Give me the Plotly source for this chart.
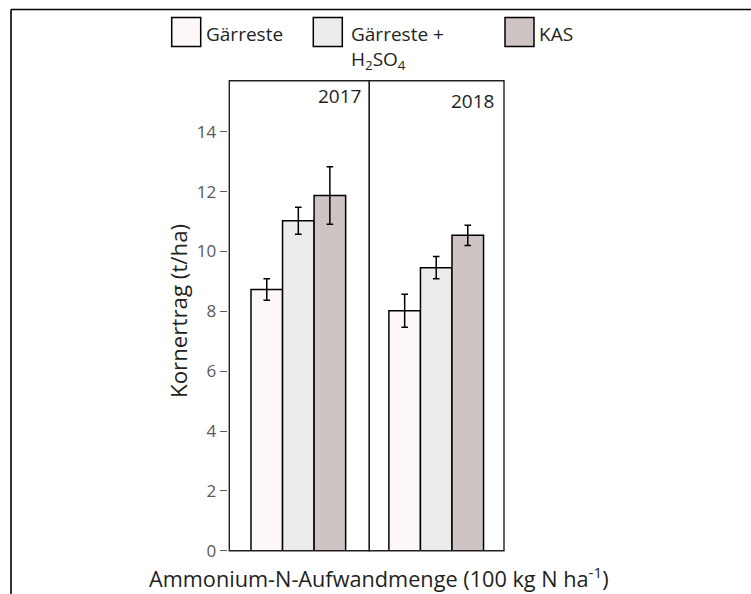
import plotly.graph_objects as go

W = 751
H_REF = 594      # height of the reference picture (pixel positions below are read from it)
H = 605          # page height that is rendered and then fitted into the 594 px picture

years = ["2017", "2018"]
treatments = ["Gärreste", "Gärreste +<br>H<sub>2</sub>SO<sub>4</sub>", "KAS"]
values = {
    "2017": [8.73, 11.03, 11.87],
    "2018": [8.02, 9.46, 10.54],
}
errors = {
    "2017": [0.36, 0.45, 0.96],
    "2018": [0.55, 0.37, 0.34],
}
y_ticks = [0, 2, 4, 6, 8, 10, 12, 14]
y_title = "Kornertrag (t/ha)"
x_title = "Ammonium-N-Aufwandmenge (100 kg N ha<sup>-1</sup>)"

fills = ["#fdf8f7", "#ececec", "#cdc4c3"]
FONT = "Open Sans"
DARK = "#231f20"
GRAY = "#58595b"


def px(x):
    return x / W


def py(y):
    return (H_REF - y) / H_REF


fig = go.Figure()
axes = [("x", "y"), ("x2", "y")]
for yi, yr in enumerate(years):
    xa, ya = axes[yi]
    for ti, t in enumerate(treatments):
        fig.add_trace(go.Bar(
            x=[yr], y=[values[yr][ti]], name=t, xaxis=xa, yaxis=ya,
            marker=dict(color=fills[ti], line=dict(color="black", width=1.5)),
            error_y=dict(type="data", array=[errors[yr][ti]], color="black",
                         thickness=1.5, width=3.3),
            showlegend=False, offsetgroup=str(ti), hoverinfo="skip",
        ))

p1 = (229.3, 369.3)
p2 = (369.3, 504.0)
ytop, ybot = 80.7, 550.8
unit = 140.0
fig.update_layout(
    width=W, height=H, autosize=False,
    margin=dict(l=0, r=0, t=0, b=0),
    paper_bgcolor="white", plot_bgcolor="white",
    barmode="group", bargap=0.324, bargroupgap=0,
    font=dict(family=FONT, color=DARK),
    xaxis=dict(domain=[px(p1[0]), px(p1[1])], range=[-0.493, -0.493 + (p1[1] - p1[0]) / unit],
               showticklabels=False, ticks="", showgrid=False, zeroline=False, anchor="y"),
    xaxis2=dict(domain=[px(p2[0]), px(p2[1])], range=[-0.478, -0.478 + (p2[1] - p2[0]) / unit],
                showticklabels=False, ticks="", showgrid=False, zeroline=False, anchor="y"),
    yaxis=dict(domain=[py(ybot), py(ytop)], range=[0, (ybot - ytop) / 29.93],
               anchor="free", position=px(226.7), tickvals=y_ticks, ticks="outside",
               ticklen=7, tickwidth=1.2, tickcolor=GRAY, showline=False, showgrid=False,
               zeroline=False, tickfont=dict(size=17, color=GRAY, family=FONT)),
)

shapes = []
for xa in ["x", "x2"]:
    shapes.append(dict(type="rect", xref=f"{xa} domain", yref="y domain",
                       x0=0, x1=1, y0=0, y1=1, line=dict(color=DARK, width=1.4),
                       fillcolor="rgba(0,0,0,0)", layer="above"))
# outer frame (left and top edges; the rest lies outside the picture)
shapes.append(dict(type="line", xref="paper", yref="paper", x0=px(11), x1=px(11),
                   y0=0, y1=py(9.5), line=dict(color="black", width=1.6)))
shapes.append(dict(type="line", xref="paper", yref="paper", x0=px(11), x1=1,
                   y0=py(9.5), y1=py(9.5), line=dict(color="black", width=1.6)))

annotations = []
# strip labels
annotations.append(dict(text=years[0], xref="paper", yref="paper", x=px(362.5), y=py(96.3),
                        xanchor="right", yanchor="middle", showarrow=False,
                        font=dict(size=19, color=DARK)))
annotations.append(dict(text=years[1], xref="paper", yref="paper", x=px(496), y=py(100.5),
                        xanchor="right", yanchor="middle", showarrow=False,
                        font=dict(size=19, color=DARK)))
# axis titles
annotations.append(dict(text=y_title, xref="paper", yref="paper", x=px(178), y=py(311),
                        textangle=-90, xanchor="center", yanchor="middle", showarrow=False,
                        font=dict(size=22.3, color=DARK)))
annotations.append(dict(text=x_title, xref="paper", yref="paper", x=px(378.5), y=py(577.5),
                        xanchor="center", yanchor="middle", showarrow=False,
                        font=dict(size=21.7, color=DARK)))

# legend (manual)
leg_boxes = [(171.7, 200.7), (313.3, 342.3), (505, 534)]
leg_text_x = [203.5, 348.5, 536.5]
for i, t in enumerate(treatments):
    x0, x1 = leg_boxes[i]
    shapes.append(dict(type="rect", xref="paper", yref="paper", x0=px(x0), x1=px(x1),
                       y0=py(46.5), y1=py(17.5), fillcolor=fills[i],
                       line=dict(color="black", width=1.5)))
    annotations.append(dict(text=t, xref="paper", yref="paper", x=px(leg_text_x[i]), y=py(18.5),
                            xanchor="left", yanchor="top", align="left", showarrow=False,
                            font=dict(size=19, color=DARK)))

fig.update_layout(shapes=shapes, annotations=annotations)
fig.write_html("out.html", config={"displayModeBar": False, "responsive": False},
               post_script="document.body.style.margin='0';"
                           "document.documentElement.style.overflow='hidden';")
